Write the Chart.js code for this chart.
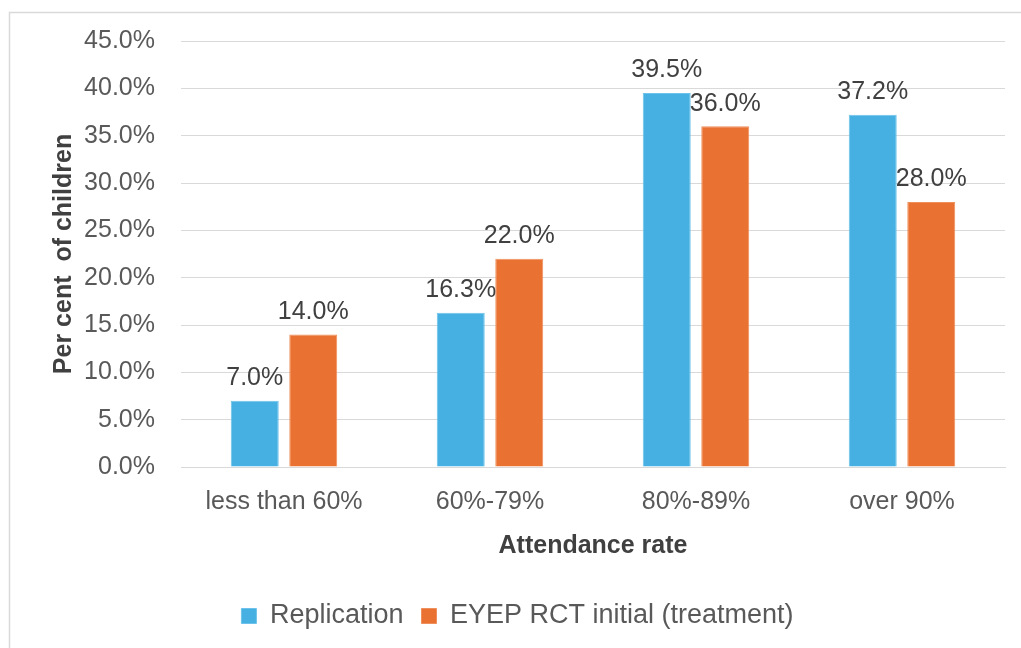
<!DOCTYPE html>
<html><head><meta charset="utf-8">
<script src="https://cdn.jsdelivr.net/npm/chart.js@4"></script>
<style>html,body{margin:0;padding:0;background:#fff}#wrap{width:1021px;height:648px}</style>
</head><body><div id="wrap"><canvas id="c" width="1021" height="648"></canvas></div>
<script>
const categories = ['less than 60%', '60%-79%', '80%-89%', 'over 90%'];
const replication = [7.0, 16.3, 39.5, 37.2];
const eyepTreatment = [14.0, 22.0, 36.0, 28.0];
const seriesNames = ['Replication', 'EYEP RCT initial (treatment)'];
const yTicks = [0, 5, 10, 15, 20, 25, 30, 35, 40, 45];

const FONT = "'Liberation Sans', Arial, sans-serif";

const borderPlugin = {
  id: 'frame',
  beforeDraw(chart) {
    const ctx = chart.ctx;
    ctx.save();
    ctx.fillStyle = '#fff';
    ctx.fillRect(0, 0, chart.width, chart.height);
    ctx.strokeStyle = '#d9d9d9';
    ctx.lineWidth = 1.5;
    ctx.strokeRect(9.5, 12.5, 1100, 700);
    ctx.restore();
  }
};

const legendShift = {
  id: 'legendShift',
  afterLayout(chart) {
    if (chart.legend) { chart.legend.left += 10; chart.legend.right += 10; }
  }
};

const labelPlugin = {
  id: 'valueLabels',
  afterDatasetsDraw(chart) {
    const ctx = chart.ctx;
    ctx.save();
    ctx.font = '25px ' + FONT;
    ctx.fillStyle = '#404040';
    ctx.textAlign = 'center';
    ctx.textBaseline = 'bottom';
    chart.data.datasets.forEach((ds, i) => {
      chart.getDatasetMeta(i).data.forEach((bar, j) => {
        ctx.fillText(ds.data[j].toFixed(1) + '%', bar.x, bar.y - 10);
      });
    });
    ctx.restore();
  }
};

new Chart(document.getElementById('c'), {
  type: 'bar',
  data: {
    labels: categories,
    datasets: [
      { label: seriesNames[0], data: replication, backgroundColor: '#45B0E1', borderColor: '#6cc2ea', borderWidth: 1,
        categoryPercentage: 0.568, barPercentage: 0.82 },
      { label: seriesNames[1], data: eyepTreatment, backgroundColor: '#E97132', borderColor: '#ef8f5c', borderWidth: 1,
        categoryPercentage: 0.568, barPercentage: 0.82 }
    ]
  },
  options: {
    responsive: false,
    animation: false,
    devicePixelRatio: 1,
    layout: { padding: { left: 10, right: 16, top: 41, bottom: 8.5 } },
    plugins: {
      legend: {
        position: 'bottom',
        labels: {
          font: { family: FONT, size: 27 },
          color: '#595959',
          boxWidth: 15, boxHeight: 15,
          padding: 18
        }
      },
      tooltip: { enabled: false }
    },
    scales: {
      x: {
        afterFit(scale) { scale.height = 117.5; },
        grid: { display: false, drawTicks: false },
        border: { display: true, color: '#d9d9d9', width: 1 },
        ticks: { font: { family: FONT, size: 25 }, color: '#595959', padding: 20 },
        title: { display: true, text: 'Attendance rate', font: { family: FONT, size: 25, weight: 'bold' }, color: '#404040', padding: { top: 14, bottom: 23.5 } }
      },
      y: {
        min: 0, max: 45,
        afterBuildTicks(scale) { scale.ticks = yTicks.map(v => ({ value: v })); },
        afterFit(scale) { scale.width = 171; },
        grid: { color: '#d9d9d9', lineWidth: 1, drawTicks: false },
        border: { display: false },
        ticks: { font: { family: FONT, size: 25 }, color: '#595959', padding: 26,
          callback: v => Number(v).toFixed(1) + '%' },
        title: { display: true, text: 'Per cent  of children', font: { family: FONT, size: 25, weight: 'bold' }, color: '#404040', padding: { top: 39, bottom: 0 } }
      }
    }
  },
  plugins: [borderPlugin, legendShift, labelPlugin]
});
</script></body></html>
